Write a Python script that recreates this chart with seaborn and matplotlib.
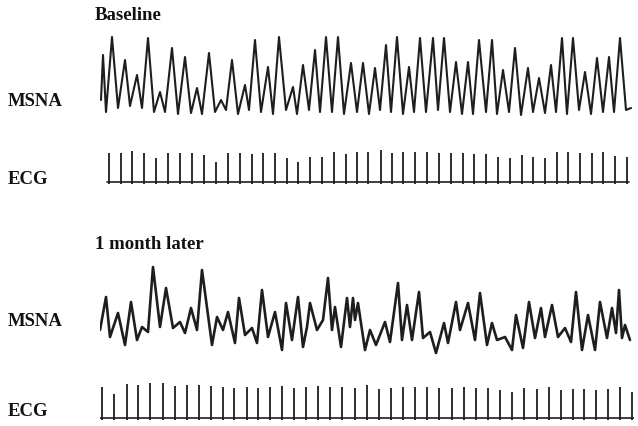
import pandas as pd
import matplotlib
matplotlib.use("Agg")
import matplotlib.pyplot as plt
import seaborn as sns

# MSNA at baseline: time (a.u.) and amplitude (a.u.) at burst peaks and troughs
msna1_t = [1, 3, 6, 12, 18, 25, 30, 37, 42, 48, 54, 60, 65, 72, 78, 85, 91, 97, 102, 109,
           115, 121, 126, 132, 138, 145, 149, 155, 161, 168, 173, 179, 186, 193, 197, 203,
           209, 215, 220, 226, 232, 238, 244, 251, 257, 263, 269, 275, 280, 286, 291, 297,
           303, 309, 314, 320, 326, 333, 338, 344, 350, 356, 362, 368, 373, 379, 386, 392,
           397, 403, 409, 415, 421, 428, 433, 439, 445, 451, 456, 462, 467, 473, 479, 485,
           491, 497, 503, 509, 514, 520, 526, 531]
msna1_v = [20, 65, 8, 83, 12, 60, 14, 45, 12, 82, 8, 28, 8, 72, 6, 63, 7, 32, 6, 67,
           8, 20, 10, 60, 6, 35, 10, 80, 8, 53, 6, 83, 10, 33, 6, 55,
           10, 70, 8, 83, 8, 83, 6, 57, 8, 57, 6, 52, 10, 75, 8, 83,
           6, 53, 8, 82, 8, 82, 10, 82, 8, 58, 6, 58, 6, 80, 8, 80,
           6, 50, 8, 72, 5, 52, 8, 42, 7, 55, 8, 82, 6, 82, 10, 48,
           6, 62, 8, 63, 8, 82, 10, 12]

# ECG at baseline: R-wave times and heights
ecg1_t = [9, 21, 32, 44, 56, 68, 80, 92, 104, 116, 128, 140, 152, 163, 175, 187, 198, 210,
          222, 234, 246, 257, 268, 281, 292, 303, 315, 327, 339, 351, 363, 374, 386, 398,
          410, 422, 433, 445, 457, 468, 480, 492, 503, 515, 527]
ecg1_v = [29, 29, 31, 29, 24, 29, 29, 29, 27, 20, 29, 29, 28, 29, 29, 24, 20, 25,
          25, 30, 28, 30, 30, 32, 29, 30, 30, 30, 29, 29, 29, 28, 28, 25, 24,
          27, 25, 24, 30, 30, 29, 29, 30, 26, 25]

# MSNA one month later
msna2_t = [0, 6, 10, 18, 25, 31, 37, 42, 48, 53, 60, 66, 73, 80, 85, 91, 97, 102, 112, 117,
           123, 128, 135, 139, 145, 152, 157, 162, 168, 175, 182, 186, 192, 198, 203, 207,
           210, 217, 223, 228, 232, 235, 241, 247, 250, 253, 255, 258, 265, 270, 276, 285,
           290, 298, 302, 307, 312, 319, 323, 330, 336, 344, 348, 356, 360, 368, 375, 380,
           387, 392, 397, 405, 412, 416, 423, 429, 435, 441, 445, 452, 458, 465, 471, 476,
           482, 488, 495, 500, 507, 512, 516, 519, 522, 525, 530]
msna2_v = [25, 58, 18, 42, 10, 53, 15, 28, 23, 88, 28, 67, 27, 33, 22, 47, 25, 85, 10, 38,
           25, 43, 12, 57, 20, 27, 12, 65, 18, 43, 5, 52, 15, 58, 8, 28,
           52, 25, 35, 77, 25, 48, 8, 57, 28, 57, 35, 52, 5, 25, 10, 33,
           13, 72, 15, 50, 15, 63, 17, 23, 2, 32, 12, 53, 25, 52, 15, 62,
           10, 32, 15, 18, 5, 40, 7, 53, 17, 47, 18, 50, 18, 27, 13, 63,
           5, 40, 5, 53, 17, 47, 22, 65, 17, 30, 15]

# ECG one month later
ecg2_t = [2, 14, 27, 38, 50, 63, 75, 87, 99, 111, 123, 134, 147, 158, 170, 182, 194, 206,
          218, 230, 242, 255, 267, 279, 291, 303, 315, 327, 339, 352, 364, 376, 388, 400,
          412, 424, 437, 449, 461, 473, 484, 496, 508, 520, 532]
ecg2_v = [31, 24, 34, 33, 35, 35, 32, 33, 33, 32, 31, 30, 31, 30, 31, 32, 30, 31,
          32, 31, 31, 30, 33, 29, 30, 31, 31, 31, 30, 30, 31, 30, 30, 28, 26,
          30, 29, 31, 28, 29, 29, 28, 29, 31, 26]

W, H = 638, 426
INK = "#1e1e1e"


def add_panel(fig, top, bottom, ylim):
    ax = fig.add_axes([100 / W, 1 - bottom / H, 534 / W, (bottom - top) / H])
    ax.set_xlim(0, 534)
    ax.set_ylim(*ylim)
    ax.set_axis_off()
    return ax


def draw_msna(ax, t, v, lw):
    df = pd.DataFrame({"t": t, "v": v})
    sns.lineplot(data=df, x="t", y="v", ax=ax, estimator=None, sort=False,
                 color=INK, lw=lw)


def draw_ecg(ax, t, v):
    ax.plot([t[0] - 2, t[-1] + 2], [0, 0], color=INK, lw=1.2)
    ax.vlines(t, -2, v, color=INK, lw=1.3)


def main():
    sns.set_style("white")
    plt.rcParams["font.family"] = ["Liberation Serif", "DejaVu Serif"]

    fig = plt.figure(figsize=(W / 100, H / 100), dpi=100)

    ax1 = add_panel(fig, 30, 122, (-2, 90))
    draw_msna(ax1, msna1_t, msna1_v, 1.5)

    ax2 = add_panel(fig, 145, 188, (-6, 37))
    draw_ecg(ax2, ecg1_t, ecg1_v)

    ax3 = add_panel(fig, 260, 360, (-5, 95))
    draw_msna(ax3, msna2_t, msna2_v, 1.9)

    ax4 = add_panel(fig, 378, 424, (-6, 40))
    draw_ecg(ax4, ecg2_t, ecg2_v)

    style = dict(fontsize=13.5, fontweight="bold", va="center", ha="left", color="#111111")
    fig.text(95 / W, 1 - 15 / H, "Baseline", **style)
    fig.text(8 / W, 1 - 102 / H, "MSNA", **style)
    fig.text(8 / W, 1 - 180 / H, "ECG", **style)
    fig.text(95 / W, 1 - 244 / H, "1 month later", **style)
    fig.text(8 / W, 1 - 321 / H, "MSNA", **style)
    fig.text(8 / W, 1 - 412 / H, "ECG", **style)

    fig.savefig("out.png", dpi=100)


if __name__ == "__main__":
    main()
